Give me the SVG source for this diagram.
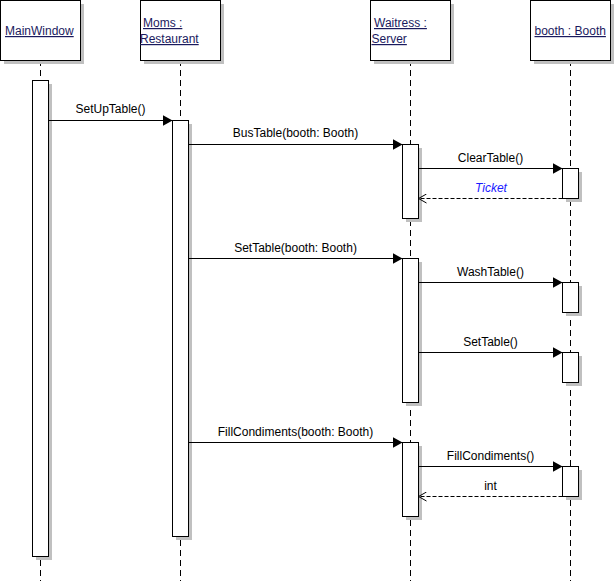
<svg xmlns="http://www.w3.org/2000/svg" width="615" height="581" viewBox="0 0 615 581">
<defs>
<style>
.box{fill:#fff;stroke:#000;stroke-width:1}
.sh{fill:#c0c0c0}
.life{stroke:#000;stroke-width:1;stroke-dasharray:6,4;fill:none}
.msg{stroke:#000;stroke-width:1;fill:none}
.ret{stroke:#000;stroke-width:1;stroke-dasharray:4,2;fill:none}
.hd{font-family:"Liberation Sans",Arial,sans-serif;font-size:12px;fill:#1a1a5e;text-decoration:underline}
.lb{font-family:"Liberation Sans",Arial,sans-serif;font-size:12px;fill:#000;text-anchor:middle}
.tk{font-family:"Liberation Sans",Arial,sans-serif;font-size:12px;fill:#1a1aff;font-style:italic;text-anchor:middle}
</style>
<marker id="fa" viewBox="0 0 10 11" refX="10" refY="5.5" markerWidth="10" markerHeight="11" markerUnits="userSpaceOnUse" orient="auto">
<path d="M0,0 L10,5.5 L0,11 Z" fill="#000"/>
</marker>
<marker id="oa" viewBox="0 0 10 10" refX="9" refY="5" markerWidth="10" markerHeight="10" markerUnits="userSpaceOnUse" orient="auto">
<path d="M1,0.5 L9,5 L1,9.5" fill="none" stroke="#000" stroke-width="1"/>
</marker>
</defs>
<rect width="615" height="581" fill="#fff"/>
<g id="lifelines">
<line class="life" x1="40.5" y1="60" x2="40.5" y2="581"/>
<line class="life" x1="180.5" y1="60" x2="180.5" y2="581"/>
<line class="life" x1="410.5" y1="60" x2="410.5" y2="581"/>
<line class="life" x1="570.5" y1="60" x2="570.5" y2="581"/>
</g>
<g id="MainWindow">
<rect class="sh" x="4" y="4" width="80" height="60"/>
<rect class="box" x="0.5" y="0.5" width="80" height="60"/>
<text class="hd" x="5" y="35">MainWindow</text>
</g>
<g id="Moms">
<rect class="sh" x="144" y="4" width="80" height="60"/>
<rect class="box" x="140.5" y="0.5" width="80" height="60"/>
<text class="hd" x="143" y="27">Moms :</text>
<text class="hd" x="140" y="43">Restaurant</text>
</g>
<g id="Waitress">
<rect class="sh" x="374" y="4" width="80" height="60"/>
<rect class="box" x="370.5" y="0.5" width="80" height="60"/>
<text class="hd" x="374" y="27">Waitress :</text>
<text class="hd" x="371.5" y="43">Server</text>
</g>
<g id="booth">
<rect class="sh" x="534" y="4" width="80" height="60"/>
<rect class="box" x="530.5" y="0.5" width="80" height="60"/>
<text class="hd" x="534.5" y="35">booth : Booth</text>
</g>
<g id="activations">
<rect class="sh" x="36" y="84" width="16" height="476"/>
<rect class="box" x="32.5" y="80.5" width="16" height="476"/>
<rect class="sh" x="176" y="124" width="16" height="416"/>
<rect class="box" x="172.5" y="120.5" width="16" height="416"/>
<rect class="sh" x="406" y="148" width="16" height="74"/>
<rect class="box" x="402.5" y="144.5" width="16" height="74"/>
<rect class="sh" x="406" y="262" width="16" height="144"/>
<rect class="box" x="402.5" y="258.5" width="16" height="144"/>
<rect class="sh" x="406" y="446" width="16" height="74"/>
<rect class="box" x="402.5" y="442.5" width="16" height="74"/>
<rect class="sh" x="566" y="172" width="16" height="30"/>
<rect class="box" x="562.5" y="168.5" width="16" height="30"/>
<rect class="sh" x="566" y="286" width="16" height="30"/>
<rect class="box" x="562.5" y="282.5" width="16" height="30"/>
<rect class="sh" x="566" y="356" width="16" height="30"/>
<rect class="box" x="562.5" y="352.5" width="16" height="30"/>
<rect class="sh" x="566" y="470" width="16" height="30"/>
<rect class="box" x="562.5" y="466.5" width="16" height="30"/>
</g>
<g id="connectors">
<line class="msg" x1="48.5" y1="120.5" x2="172.5" y2="120.5" marker-end="url(#fa)"/>
<line class="msg" x1="188.5" y1="144.5" x2="402.5" y2="144.5" marker-end="url(#fa)"/>
<line class="msg" x1="418.5" y1="168.5" x2="562.5" y2="168.5" marker-end="url(#fa)"/>
<line class="ret" x1="562.5" y1="198.5" x2="418.5" y2="198.5" marker-end="url(#oa)"/>
<line class="msg" x1="188.5" y1="258.5" x2="402.5" y2="258.5" marker-end="url(#fa)"/>
<line class="msg" x1="418.5" y1="282.5" x2="562.5" y2="282.5" marker-end="url(#fa)"/>
<line class="msg" x1="418.5" y1="352.5" x2="562.5" y2="352.5" marker-end="url(#fa)"/>
<line class="msg" x1="188.5" y1="442.5" x2="402.5" y2="442.5" marker-end="url(#fa)"/>
<line class="msg" x1="418.5" y1="466.5" x2="562.5" y2="466.5" marker-end="url(#fa)"/>
<line class="ret" x1="562.5" y1="496.5" x2="418.5" y2="496.5" marker-end="url(#oa)"/>
<text class="lb" x="110.5" y="113">SetUpTable()</text>
<text class="lb" x="295.5" y="137">BusTable(booth: Booth)</text>
<text class="lb" x="490.5" y="162">ClearTable()</text>
<text class="tk" x="491" y="192">Ticket</text>
<text class="lb" x="295.5" y="251.5">SetTable(booth: Booth)</text>
<text class="lb" x="490.5" y="275.5">WashTable()</text>
<text class="lb" x="490.5" y="345.5">SetTable()</text>
<text class="lb" x="295.5" y="435.5">FillCondiments(booth: Booth)</text>
<text class="lb" x="490.5" y="459.5">FillCondiments()</text>
<text class="lb" x="490.5" y="489.5">int</text>
</g>
</svg>
